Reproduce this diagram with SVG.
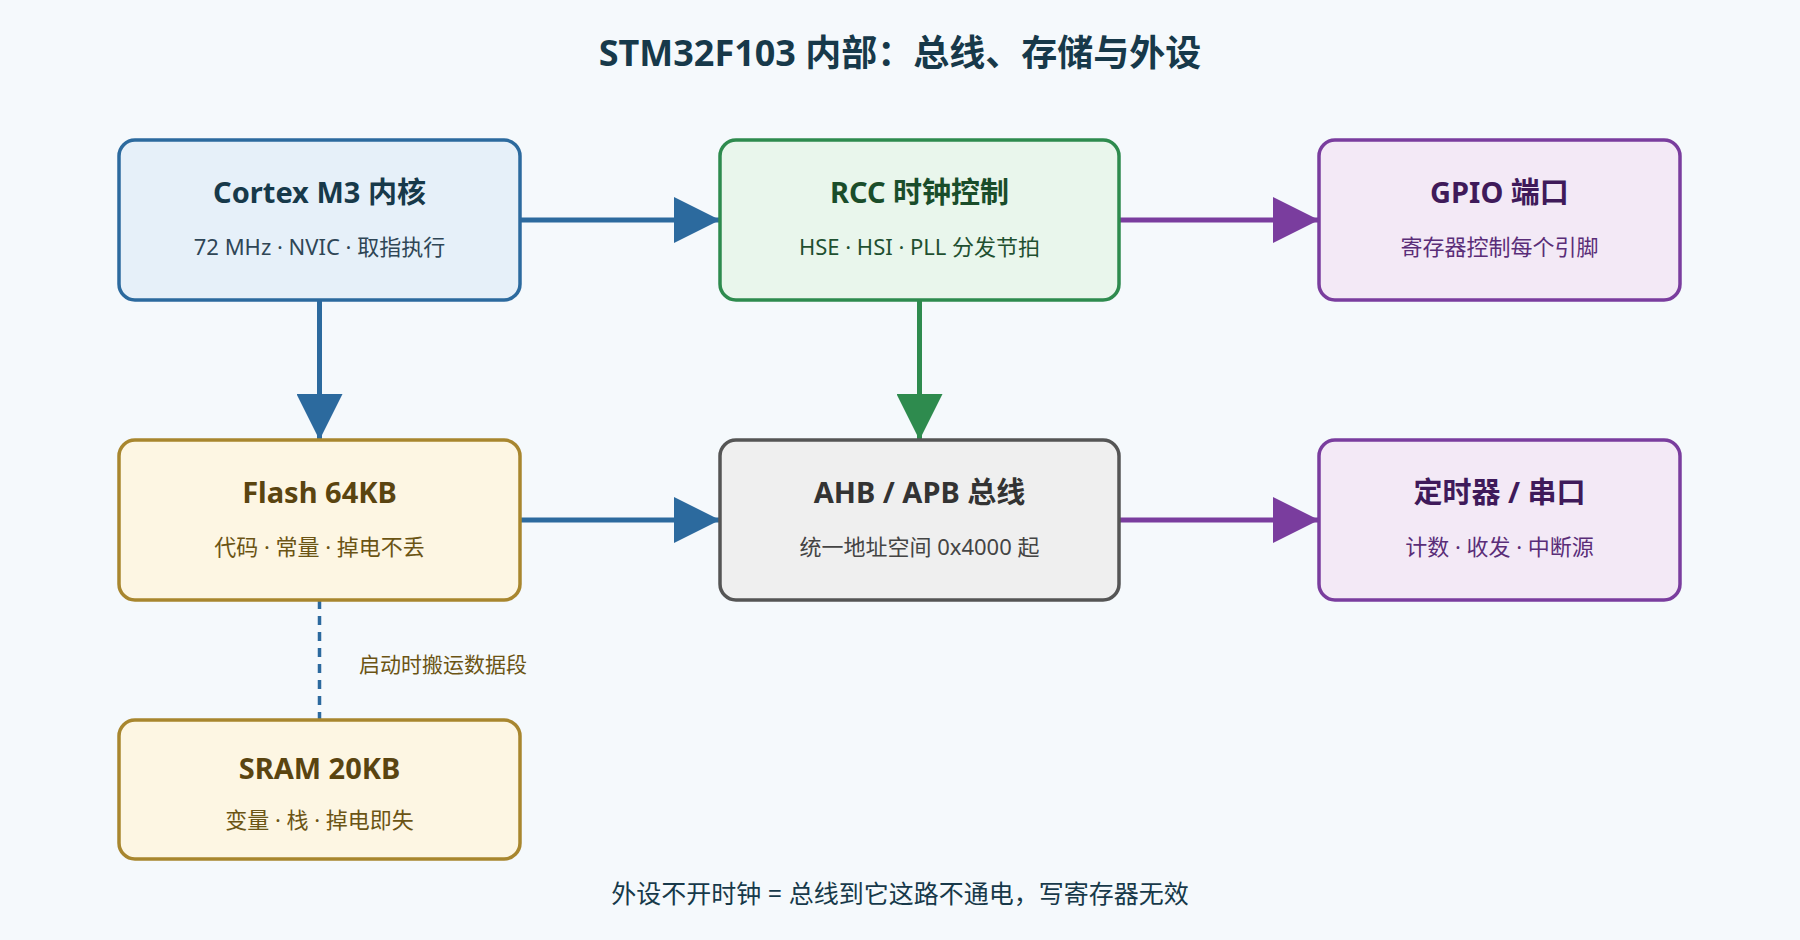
<svg xmlns="http://www.w3.org/2000/svg" width="1800" height="940" viewBox="0 0 1800 940">
<style>
.t{font-family:"Noto Sans","Noto Sans CJK SC",sans-serif;font-weight:bold;font-size:29px;text-anchor:middle}
.s{font-family:"Noto Sans","Noto Sans CJK SC",sans-serif;font-size:22px;text-anchor:middle}
.box{stroke-width:3.5}
.c{fill:none;stroke-width:5}
</style>
<defs>
<marker id="ab" viewBox="0 0 46 46" refX="46" refY="23" markerWidth="46" markerHeight="46" markerUnits="userSpaceOnUse" orient="auto"><path d="M0,0L46,23L0,46Z" fill="#2c6a9e"/></marker>
<marker id="ag" viewBox="0 0 46 46" refX="46" refY="23" markerWidth="46" markerHeight="46" markerUnits="userSpaceOnUse" orient="auto"><path d="M0,0L46,23L0,46Z" fill="#2e8b4e"/></marker>
<marker id="ap" viewBox="0 0 46 46" refX="46" refY="23" markerWidth="46" markerHeight="46" markerUnits="userSpaceOnUse" orient="auto"><path d="M0,0L46,23L0,46Z" fill="#7a3d9e"/></marker>
</defs>
<rect width="1800" height="940" fill="#f5f9fc"/>
<text x="900" y="66" class="t" style="font-size:36px" fill="#17394a">STM32F103 内部：总线、存储与外设</text>
<g id="connectors">
<path class="c" stroke="#2c6a9e" d="M520,220H720" marker-end="url(#ab)"/>
<path class="c" stroke="#2c6a9e" d="M319.5,300V440" marker-end="url(#ab)"/>
<path class="c" stroke="#7a3d9e" d="M1119,220H1319" marker-end="url(#ap)"/>
<path class="c" stroke="#2e8b4e" d="M919.5,300V440" marker-end="url(#ag)"/>
<path class="c" stroke="#2c6a9e" d="M520,520H720" marker-end="url(#ab)"/>
<path class="c" stroke="#7a3d9e" d="M1119,520H1319" marker-end="url(#ap)"/>
<path stroke="#2c6a9e" stroke-width="3.5" stroke-dasharray="9,7" fill="none" d="M319.5,600V720"/>
<text x="359" y="672" class="s" style="text-anchor:start;font-size:21px" fill="#6b5414">启动时搬运数据段</text>
</g>
<g id="cortex"><rect class="box" x="119" y="140" width="401" height="160" rx="16" fill="#e6f0f9" stroke="#2c6a9e"/><text x="319.5" y="203" class="t" fill="#17394a">Cortex M3 内核</text><text x="319.5" y="255" class="s" fill="#2f4656">72 MHz · NVIC · 取指执行</text></g>
<g id="rcc"><rect class="box" x="720" y="140" width="399" height="160" rx="16" fill="#e9f6ec" stroke="#2e8b4e"/><text x="919.5" y="203" class="t" fill="#1a4d2a">RCC 时钟控制</text><text x="919.5" y="255" class="s" fill="#1f5030">HSE · HSI · PLL 分发节拍</text></g>
<g id="gpio"><rect class="box" x="1319" y="140" width="361" height="160" rx="16" fill="#f3e9f6" stroke="#7a3d9e"/><text x="1499.5" y="203" class="t" fill="#3f1a5a">GPIO 端口</text><text x="1499.5" y="255" class="s" fill="#5a2d78">寄存器控制每个引脚</text></g>
<g id="flash"><rect class="box" x="119" y="440" width="401" height="160" rx="16" fill="#fdf6e3" stroke="#a8862e"/><text x="319.5" y="503" class="t" fill="#5a4410">Flash 64KB</text><text x="319.5" y="555" class="s" fill="#6b5414">代码 · 常量 · 掉电不丢</text></g>
<g id="ahb"><rect class="box" x="720" y="440" width="399" height="160" rx="16" fill="#efefef" stroke="#555"/><text x="919.5" y="503" class="t" fill="#333">AHB / APB 总线</text><text x="919.5" y="555" class="s" fill="#444">统一地址空间 0x4000 起</text></g>
<g id="timer"><rect class="box" x="1319" y="440" width="361" height="160" rx="16" fill="#f3e9f6" stroke="#7a3d9e"/><text x="1499.5" y="503" class="t" fill="#3f1a5a">定时器 / 串口</text><text x="1499.5" y="555" class="s" fill="#5a2d78">计数 · 收发 · 中断源</text></g>
<g id="sram"><rect class="box" x="119" y="720" width="401" height="139" rx="16" fill="#fdf6e3" stroke="#a8862e"/><text x="319.5" y="779" class="t" fill="#5a4410">SRAM 20KB</text><text x="319.5" y="828" class="s" fill="#6b5414">变量 · 栈 · 掉电即失</text></g>
<text x="900" y="903" class="s" style="font-size:25px" fill="#17394a">外设不开时钟 = 总线到它这路不通电，写寄存器无效</text>
</svg>
